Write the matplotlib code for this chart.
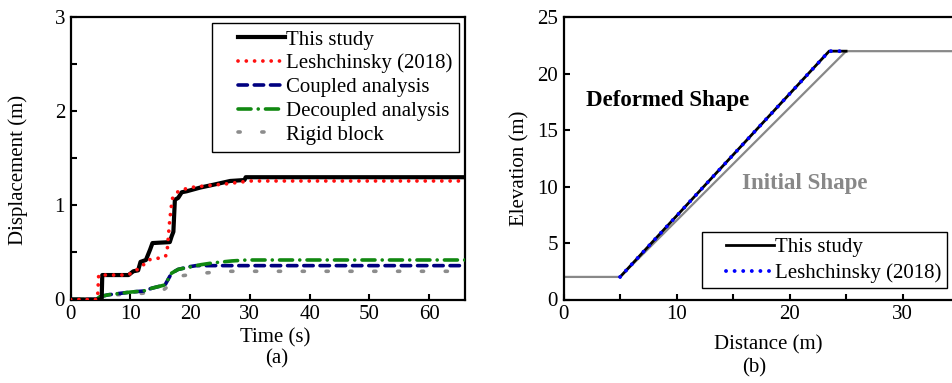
import matplotlib
matplotlib.use("Agg")
import matplotlib.pyplot as plt
from matplotlib.ticker import MultipleLocator
from matplotlib.legend_handler import HandlerLine2D

plt.rcParams["font.family"] = ["Liberation Serif", "DejaVu Serif"]
plt.rcParams["mathtext.fontset"] = "stix"

# ---------------- (a) displacement time histories ----------------
t_study = [0, 5.2, 5.3, 9.7, 10.5, 11.3, 11.7, 12.6, 13.3, 13.7, 16.6, 16.9, 17.2, 17.45,
           18.0, 18.6, 19.4, 21.7, 23.9, 26.7, 29.1, 29.3, 66]
d_study = [0, 0, 0.26, 0.26, 0.30, 0.31, 0.40, 0.42, 0.53, 0.60, 0.61, 0.67, 0.72, 1.06,
           1.08, 1.14, 1.15, 1.19, 1.22, 1.26, 1.27, 1.30, 1.30]

t_lesh = [0, 4.5, 4.7, 9.5, 10.5, 11.9, 13.0, 13.7, 14.8, 15.9, 16.2, 16.6, 17.0, 17.8,
          18.9, 20.0, 22.8, 26.1, 30.0, 66]
d_lesh = [0, 0, 0.26, 0.26, 0.29, 0.35, 0.42, 0.43, 0.44, 0.46, 0.55, 0.85, 1.07, 1.14,
          1.17, 1.19, 1.21, 1.23, 1.26, 1.26]

t_coupled = [0, 4.3, 4.9, 6.3, 10.2, 12.2, 13.6, 15.8, 16.9, 18.0, 20.0, 21.0, 66]
d_coupled = [0, 0, 0.03, 0.05, 0.08, 0.09, 0.12, 0.155, 0.28, 0.32, 0.35, 0.36, 0.36]

t_decoupled = [0, 4.3, 4.9, 6.3, 10.2, 12.2, 13.6, 15.8, 16.9, 18.0, 20.3, 21.8, 23.9,
               27.0, 29.5, 66]
d_decoupled = [0, 0, 0.03, 0.05, 0.08, 0.09, 0.12, 0.155, 0.28, 0.32, 0.35, 0.37, 0.39,
               0.41, 0.42, 0.42]

t_rigid = [0, 4.5, 5.5, 7.4, 11.1, 15.3, 16.5, 18.3, 22.1, 26.1, 66]
d_rigid = [0, 0, 0.03, 0.05, 0.06, 0.09, 0.15, 0.25, 0.28, 0.30, 0.30]

# ---------------- (b) slope profiles ----------------
x_initial = [0, 5, 25, 35]
z_initial = [2, 2, 22, 22]
x_deformed = [5, 23.5, 25]
z_deformed = [2, 22, 22]
x_lesh_shape = [5, 23.5, 24.5]
z_lesh_shape = [2, 22, 22]

FS = 15

fig = plt.figure(figsize=(9.53, 3.83), dpi=100)
W, H = 953.0, 383.0

def px_axes(x0, y0, x1, y1):
    return fig.add_axes([x0 / W, 1 - y1 / H, (x1 - x0) / W, (y1 - y0) / H])

def style_axes(ax):
    for s in ax.spines.values():
        s.set_linewidth(1.6)
    ax.tick_params(which="both", direction="in", length=4.5, width=1.5,
                   labelsize=FS, top=False, right=False, pad=4)

# legend handles are inset from the frame's left edge
inset = HandlerLine2D(xpad=0.9)

# ---- panel (a)
ax1 = px_axes(70.6, 17.3, 465, 299.5)
l_rig, = ax1.plot(t_rigid, d_rigid, color="#8c8c8c", lw=2.6,
                  linestyle=(0, (0.6, 6.0)), dash_capstyle="round", zorder=2)
l_cpl, = ax1.plot(t_coupled, d_coupled, color="#000080", lw=2.6,
                  linestyle=(0, (2.6, 1.9)), dash_capstyle="round", zorder=3)
l_dec, = ax1.plot(t_decoupled, d_decoupled, color="#118811", lw=2.6,
                  linestyle=(0, (3.6, 2.0, 0.01, 2.0)), dash_capstyle="round", zorder=4)
l_std, = ax1.plot(t_study, d_study, color="black", lw=3.0, zorder=5)
l_les, = ax1.plot(t_lesh, d_lesh, color="#ff1010", lw=2.7,
                  linestyle=(0, (0.01, 2.2)), dash_capstyle="round", zorder=6)

ax1.set_xlim(0, 66)
ax1.set_ylim(0, 3)
ax1.xaxis.set_major_locator(MultipleLocator(10))
ax1.yaxis.set_major_locator(MultipleLocator(1))
ax1.yaxis.set_minor_locator(MultipleLocator(0.5))
style_axes(ax1)
ax1.set_ylabel("Displacement (m)", fontsize=FS)
ax1.yaxis.set_label_coords(-43 / 394.4, 0.46)

leg1 = ax1.legend([l_std, l_les, l_cpl, l_dec, l_rig],
                  ["This study", "Leshchinsky (2018)", "Coupled analysis",
                   "Decoupled analysis", "Rigid block"],
                  loc="upper right", bbox_to_anchor=(459.3 / W, 1 - 22.7 / H),
                  bbox_transform=fig.transFigure, borderaxespad=0, fontsize=FS,
                  fancybox=False, framealpha=1, edgecolor="black",
                  handlelength=3.15, handletextpad=0.05, labelspacing=0.2,
                  borderpad=0.35, handler_map={l: inset for l in
                                               [l_std, l_les, l_cpl, l_dec, l_rig]})
leg1.get_frame().set_linewidth(1.0)

fig.text(275 / W, 1 - 338 / H, "Time (s)", ha="center", va="center", fontsize=FS)
fig.text(277 / W, 1 - 359 / H, "(a)", ha="center", va="center", fontsize=FS)

# ---- panel (b)
ax2 = px_axes(563.6, 17.3, 563.6 + 35 * 11.3, 299.5)
ax2.plot(x_initial, z_initial, color="#888888", lw=1.6, zorder=2)
l_def, = ax2.plot(x_deformed, z_deformed, color="black", lw=2.0, zorder=3)
l_ls2, = ax2.plot(x_lesh_shape, z_lesh_shape, color="#0000ff", lw=2.8,
                  linestyle=(0, (0.01, 2.2)), dash_capstyle="round", zorder=4)
ax2.set_xlim(0, 35)
ax2.set_ylim(0, 25)
ax2.xaxis.set_major_locator(MultipleLocator(10))
ax2.xaxis.set_minor_locator(MultipleLocator(5))
ax2.yaxis.set_major_locator(MultipleLocator(5))
style_axes(ax2)
ax2.set_ylabel("Elevation (m)", fontsize=FS)
ax2.yaxis.set_label_coords(-34 / 395.5, 0.465)

ax2.text(2.0, 17.6, "Deformed Shape", fontsize=16.5, fontweight="bold",
         color="black", ha="left", va="center")
ax2.text(15.8, 10.3, "Initial Shape", fontsize=16.5, fontweight="bold",
         color="#888888", ha="left", va="center")

leg2 = ax2.legend([l_def, l_ls2], ["This study", "Leshchinsky (2018)"],
                  loc="lower right", bbox_to_anchor=(947 / W, 1 - 288.3 / H),
                  bbox_transform=fig.transFigure, borderaxespad=0, fontsize=FS,
                  fancybox=False, framealpha=1, edgecolor="black",
                  handlelength=3.2, handletextpad=0.05, labelspacing=0.3,
                  borderpad=0.25, handler_map={l_def: inset, l_ls2: inset})
leg2.get_frame().set_linewidth(1.0)

fig.text(768 / W, 1 - 345 / H, "Distance (m)", ha="center", va="center", fontsize=FS)
fig.text(754 / W, 1 - 368 / H, "(b)", ha="center", va="center", fontsize=FS)

fig.savefig("out.png", dpi=100)
